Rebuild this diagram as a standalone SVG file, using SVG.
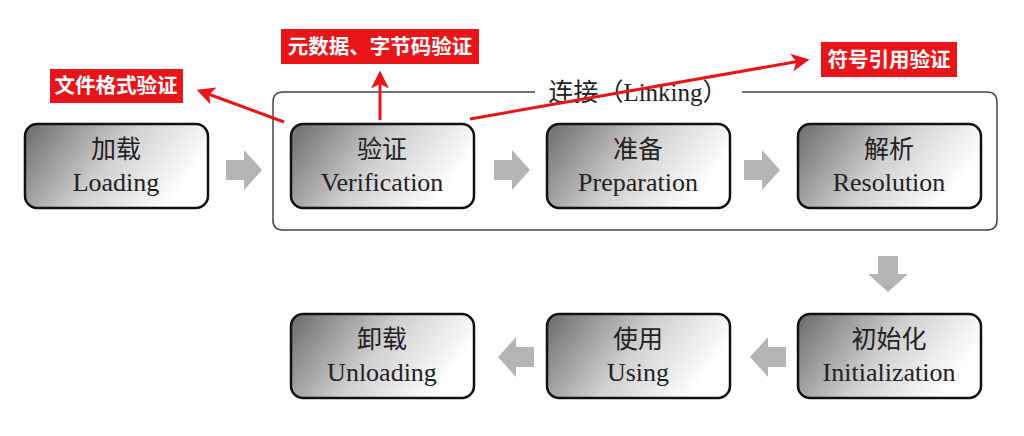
<svg xmlns="http://www.w3.org/2000/svg" width="1024" height="436" viewBox="0 0 1024 436">
<defs>
<linearGradient id="g" x1="0" y1="0" x2="1" y2="0.35">
<stop offset="0" stop-color="#6a6a6a"/>
<stop offset="0.55" stop-color="#d0d0d0"/>
<stop offset="1" stop-color="#ffffff"/>
</linearGradient>
<marker id="rh" viewBox="0 0 10 10" refX="8" refY="5" markerWidth="6" markerHeight="6" orient="auto" markerUnits="strokeWidth">
<path d="M0,0 L10,5 L0,10 L2.5,5 z" fill="#e8161b"/>
</marker>
<path id="ga" d="M0,-10 L18,-10 L18,-20 L36,0 L18,20 L18,10 L0,10 z" fill="#b4b4b4"/>
</defs>
<style>
.node rect{fill:url(#g);stroke:#111;stroke-width:2.5}
.cn{font-family:"Liberation Serif","Noto Sans CJK SC",serif;font-size:25px;fill:#222;text-anchor:middle}
.en{font-family:"Liberation Serif",serif;font-size:26px;fill:#222;text-anchor:middle}
.lab rect{fill:#e8161b}
.lab text{font-family:"Noto Sans CJK SC",sans-serif;font-weight:bold;font-size:20.5px;fill:#fff;text-anchor:middle}
.red{stroke:#e8161b;stroke-width:3;fill:none;marker-end:url(#rh)}
</style>
<rect width="1024" height="436" fill="#fff"/>
<g id="linking">
<path d="M535,92 H283 Q273,92 273,102 V220 Q273,230 283,230 H987 Q997,230 997,220 V102 Q997,92 987,92 H742" fill="none" stroke="#444" stroke-width="1.5"/>
<text x="638" y="101" class="cn" style="font-size:25px">连接（Linking）</text>
</g>
<g id="connectors">
<use href="#ga" transform="translate(226,170)"/>
<use href="#ga" transform="translate(494,170)"/>
<use href="#ga" transform="translate(744,170)"/>
<use href="#ga" transform="translate(888,256) rotate(90)"/>
<use href="#ga" transform="translate(786,357) rotate(180)"/>
<use href="#ga" transform="translate(534,357) rotate(180)"/>
<line class="red" x1="284" y1="122" x2="200" y2="91"/>
<line class="red" x1="380" y1="120" x2="380" y2="74"/>
<line class="red" x1="470" y1="119" x2="806" y2="60"/>
</g>
<g id="loading" class="node"><rect x="25" y="124" width="183" height="84" rx="12"/><text x="116" y="158" class="cn">加载</text><text x="116" y="191" class="en">Loading</text></g>
<g id="verification" class="node"><rect x="291" y="124" width="183" height="84" rx="12"/><text x="382" y="158" class="cn">验证</text><text x="382" y="191" class="en">Verification</text></g>
<g id="preparation" class="node"><rect x="547" y="124" width="183" height="84" rx="12"/><text x="638" y="158" class="cn">准备</text><text x="638" y="191" class="en">Preparation</text></g>
<g id="resolution" class="node"><rect x="798" y="124" width="183" height="84" rx="12"/><text x="889" y="158" class="cn">解析</text><text x="889" y="191" class="en">Resolution</text></g>
<g id="initialization" class="node"><rect x="798" y="314" width="183" height="84" rx="12"/><text x="889" y="348" class="cn">初始化</text><text x="889" y="381" class="en">Initialization</text></g>
<g id="using" class="node"><rect x="547" y="314" width="183" height="84" rx="12"/><text x="638" y="348" class="cn">使用</text><text x="638" y="381" class="en">Using</text></g>
<g id="unloading" class="node"><rect x="291" y="314" width="183" height="84" rx="12"/><text x="382" y="348" class="cn">卸载</text><text x="382" y="381" class="en">Unloading</text></g>
<g id="label-format" class="lab"><rect x="50" y="69" width="133" height="34"/><text x="116" y="93">文件格式验证</text></g>
<g id="label-meta" class="lab"><rect x="281" y="29" width="198" height="35"/><text x="380" y="54">元数据、字节码验证</text></g>
<g id="label-symbol" class="lab"><rect x="821" y="42" width="136" height="35"/><text x="889" y="67">符号引用验证</text></g>
</svg>
